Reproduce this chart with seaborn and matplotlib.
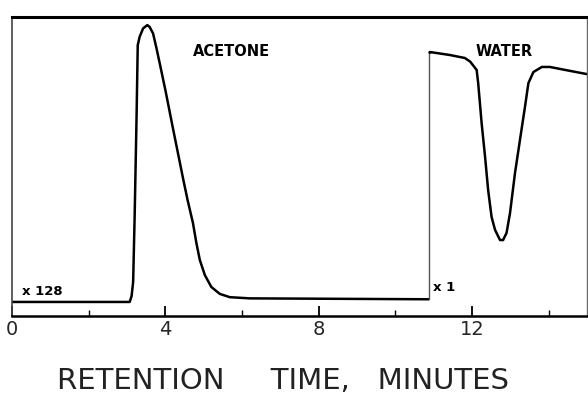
import matplotlib
matplotlib.use("Agg")
import matplotlib.pyplot as plt
import seaborn as sns
import pandas as pd

# Recorder trace, attenuation x128 (acetone section): time in minutes, signal in chart units
acetone_t = [0.0, 3.07, 3.12, 3.16, 3.20, 3.25, 3.28, 3.33, 3.42, 3.53, 3.59, 3.68,
             3.77, 3.90, 4.01, 4.19, 4.33, 4.47, 4.58, 4.72, 4.81, 4.90, 5.03,
             5.20, 5.42, 5.68, 6.20, 10.87]
acetone_s = [4.7, 4.7, 6.7, 11.4, 33.8, 67.2, 90.6, 93.4, 96.2, 97.3, 96.7, 94.5,
             89.5, 81.7, 75.0, 63.3, 54.4, 45.5, 38.8, 31.1, 24.4, 18.7, 13.7,
             9.7, 7.4, 6.3, 5.9, 5.6]

# Recorder trace, attenuation x1 (water section)
water_t = [10.90, 11.42, 11.81, 11.95, 12.12, 12.16, 12.25, 12.34, 12.42, 12.51,
           12.60, 12.73, 12.81, 12.90, 12.99, 13.12, 13.25, 13.38, 13.47, 13.60,
           13.82, 14.03, 14.43, 15.0]
water_s = [88.3, 87.3, 86.3, 85.1, 82.3, 77.9, 64.5, 53.2, 42.1, 33.1,
           28.8, 25.4, 25.4, 27.8, 34.4, 47.8, 58.9, 69.9, 77.9, 81.6,
           83.3, 83.3, 82.3, 80.9]

major_ticks = [0, 4, 8, 12]
major_labels = ["0", "4", "8", "12"]
minor_ticks = [2, 6, 10, 14]

peak_names = ["ACETONE", "WATER"]
peak_label_t = [4.72, 12.1]
atten_labels = ["x 128", "x 1"]

sns.set_theme(style="white")
plt.rcParams["font.family"] = ["DejaVu Sans"]

fig = plt.figure(figsize=(5.88, 3.96), dpi=100)
ax = fig.add_axes([0.0204, 0.202, 0.978, 0.755])

df_a = pd.DataFrame({"t": acetone_t, "s": acetone_s})
df_w = pd.DataFrame({"t": water_t, "s": water_s})

sns.lineplot(data=df_a, x="t", y="s", sort=False, estimator=None,
             color="black", linewidth=1.8, ax=ax)
sns.lineplot(data=df_w, x="t", y="s", sort=False, estimator=None,
             color="black", linewidth=1.8, ax=ax)
# pen jump where the attenuation switches
ax.plot([acetone_t[-1], acetone_t[-1]], [acetone_s[-1], water_s[0]],
        color="#555555", linewidth=1.0)
ax.plot([acetone_t[-1], water_t[0]], [water_s[0], water_s[0]],
        color="black", linewidth=1.8)

ax.set_xlim(0, 15)
ax.set_ylim(0, 100)
ax.set_yticks([])
ax.set_ylabel("")
ax.set_xticks(major_ticks)
ax.set_xticklabels(major_labels)
ax.set_xticks(minor_ticks, minor=True)
ax.tick_params(axis="x", which="major", direction="in", length=7, width=1.3,
               color="black", labelsize=14, pad=3, bottom=True)
ax.tick_params(axis="x", which="minor", direction="in", length=4, width=1.0,
               color="black", bottom=True)
ax.set_xlabel("RETENTION     TIME,   MINUTES", fontsize=21, labelpad=20,
              color="#222222", x=0.471)

for side, lw, col in [("top", 2.2, "black"), ("bottom", 1.8, "black"),
                      ("left", 1.2, "#444444"), ("right", 1.0, "#666666")]:
    ax.spines[side].set_visible(True)
    ax.spines[side].set_linewidth(lw)
    ax.spines[side].set_color(col)

for name, tx in zip(peak_names, peak_label_t):
    ax.text(tx, 88.5, name, fontsize=10.5, fontweight="bold", ha="left",
            va="center", color="black")

ax.text(0.25, acetone_s[0] + 3.5, atten_labels[0], fontsize=9.5,
        fontweight="bold", ha="left", va="center", color="black")
ax.text(acetone_t[-1] + 0.1, acetone_s[-1] + 3.8, atten_labels[1], fontsize=9.5,
        fontweight="bold", ha="left", va="center", color="black")

fig.savefig("out.png", dpi=100, facecolor="white")
